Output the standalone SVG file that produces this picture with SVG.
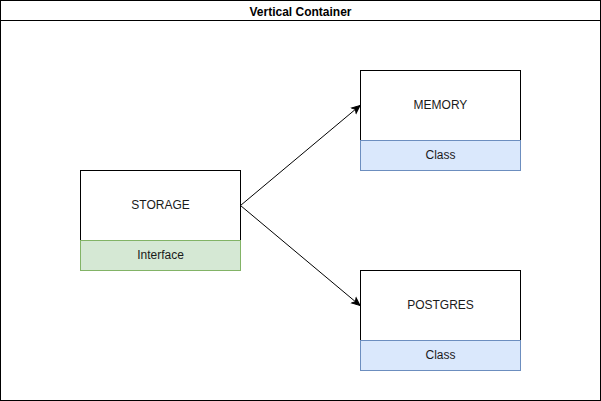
<svg xmlns="http://www.w3.org/2000/svg" width="601" height="401" viewBox="0 0 601 401">
<style>
.box{fill:#ffffff;stroke:#000000;stroke-width:1}
.iface{fill:#d5e8d4;stroke:#82b366;stroke-width:1}
.cls{fill:#dae8fc;stroke:#6c8ebf;stroke-width:1}
text{font-family:"Liberation Sans",Arial,sans-serif;font-size:12px;fill:#1a1a1a;text-anchor:middle;dominant-baseline:central}
.title{font-weight:bold;fill:#000000}
.edge{fill:none;stroke:#000000;stroke-width:1}
</style>
<defs>
<marker id="arrow" markerWidth="10" markerHeight="10" refX="9" refY="5" orient="auto" markerUnits="userSpaceOnUse">
<path d="M1,1.5 L9,5 L1,8.5 L3,5 Z" fill="#000000" stroke="#000000" stroke-width="1"/>
</marker>
</defs>
<g id="container">
<rect x="0.5" y="0.5" width="600" height="400" class="box"/>
<line x1="0.5" y1="20.5" x2="600.5" y2="20.5" stroke="#000000"/>
<text x="300.5" y="11.5" class="title">Vertical Container</text>
</g>
<g id="storage">
<rect x="80.5" y="170.5" width="160" height="70" class="box"/>
<text x="160.5" y="204.5">STORAGE</text>
<rect x="80.5" y="240.5" width="160" height="30" class="iface"/>
<text x="160.5" y="254.5">Interface</text>
</g>
<g id="memory">
<rect x="360.5" y="70.5" width="160" height="70" class="box"/>
<text x="440.5" y="104.5">MEMORY</text>
<rect x="360.5" y="140.5" width="160" height="30" class="cls"/>
<text x="440.5" y="154.5">Class</text>
</g>
<g id="postgres">
<rect x="360.5" y="270.5" width="160" height="70" class="box"/>
<text x="440.5" y="304.5">POSTGRES</text>
<rect x="360.5" y="340.5" width="160" height="30" class="cls"/>
<text x="440.5" y="354.5">Class</text>
</g>
<g id="connectors">
<line x1="240.5" y1="205.5" x2="360" y2="105.5" class="edge" marker-end="url(#arrow)"/>
<line x1="240.5" y1="205.5" x2="360" y2="305.5" class="edge" marker-end="url(#arrow)"/>
</g>
</svg>
